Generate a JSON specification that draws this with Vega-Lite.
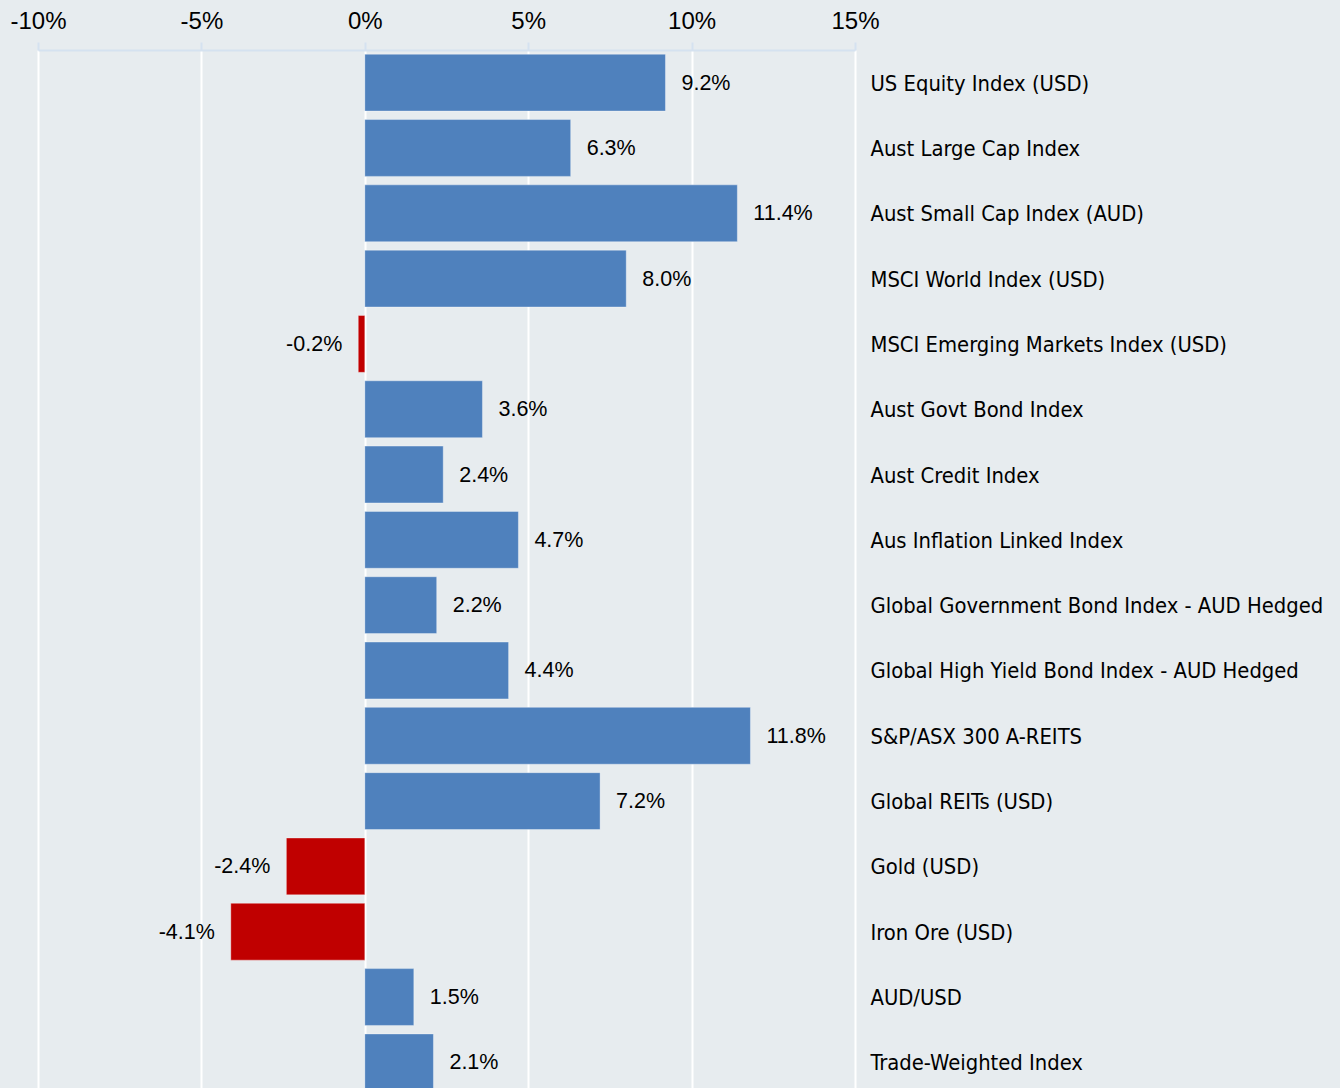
{
  "$schema": "https://vega.github.io/schema/vega-lite/v6.json",
  "autosize": {"type": "none"},
  "padding": {"left": 38, "top": 50, "right": 485, "bottom": 0},
  "width": 817,
  "height": 1045,
  "background": "#e7ecef",
  "config": {
    "view": {"stroke": null},
    "font": "Liberation Sans, Arial, sans-serif"
  },
  "data": {
    "values": [
      {"name": "US Equity Index (USD)", "value": 9.2, "label": "9.2%"},
      {"name": "Aust Large Cap Index", "value": 6.3, "label": "6.3%"},
      {"name": "Aust Small Cap Index (AUD)", "value": 11.4, "label": "11.4%"},
      {"name": "MSCI World Index (USD)", "value": 8.0, "label": "8.0%"},
      {"name": "MSCI Emerging Markets Index (USD)", "value": -0.2, "label": "-0.2%"},
      {"name": "Aust Govt Bond Index", "value": 3.6, "label": "3.6%"},
      {"name": "Aust Credit Index", "value": 2.4, "label": "2.4%"},
      {"name": "Aus Inflation Linked Index", "value": 4.7, "label": "4.7%"},
      {"name": "Global Government Bond Index - AUD Hedged", "value": 2.2, "label": "2.2%"},
      {"name": "Global High Yield Bond Index - AUD Hedged", "value": 4.4, "label": "4.4%"},
      {"name": "S&P/ASX 300 A-REITS", "value": 11.8, "label": "11.8%"},
      {"name": "Global REITs (USD)", "value": 7.2, "label": "7.2%"},
      {"name": "Gold (USD)", "value": -2.4, "label": "-2.4%"},
      {"name": "Iron Ore (USD)", "value": -4.1, "label": "-4.1%"},
      {"name": "AUD/USD", "value": 1.5, "label": "1.5%"},
      {"name": "Trade-Weighted Index", "value": 2.1, "label": "2.1%"}
    ]
  },
  "encoding": {
    "y": {
      "field": "name",
      "type": "nominal",
      "sort": null,
      "scale": {"paddingInner": 0.13, "paddingOuter": 0.065},
      "axis": {
        "orient": "right",
        "title": null,
        "domain": false,
        "ticks": false,
        "grid": false,
        "labelAlign": "left",
        "labelPadding": 15,
        "labelFont": "DejaVu Sans Condensed, sans-serif",
        "labelFontSize": 21.8,
        "labelColor": "#000000",
        "labelLimit": 600,
        "labelOffset": 1
      }
    },
    "x": {
      "field": "value",
      "type": "quantitative",
      "scale": {"domain": [-10, 15], "nice": false, "zero": false},
      "axis": {
        "orient": "top",
        "title": null,
        "values": [-10, -5, 0, 5, 10, 15],
        "labelExpr": "datum.value + '%'",
        "labelFontSize": 24,
        "labelColor": "#000000",
        "labelPadding": 9,
        "labelFlush": false,
        "labelOverlap": false,
        "tickSize": 8,
        "tickColor": "#d5e2f0",
        "tickWidth": 2,
        "domainColor": "#d5e2f0",
        "domainWidth": 2,
        "grid": true,
        "gridColor": "#ffffff",
        "gridWidth": 2,
        "gridOpacity": 1
      }
    }
  },
  "layer": [
    {
      "mark": {"type": "bar", "strokeWidth": 1, "stroke": "#ffffff", "strokeOpacity": 0.35},
      "encoding": {
        "x2": {"datum": 0},
        "color": {
          "condition": {"test": "datum.value < 0", "value": "#c00000"},
          "value": "#4f81bd"
        }
      }
    },
    {
      "transform": [{"filter": "datum.value >= 0"}],
      "mark": {"type": "text", "align": "left", "dx": 16, "dy": 1, "fontSize": 21.5, "color": "#000000", "baseline": "middle"},
      "encoding": {"text": {"field": "label"}}
    },
    {
      "transform": [{"filter": "datum.value < 0"}],
      "mark": {"type": "text", "align": "right", "dx": -16, "dy": 1, "fontSize": 21.5, "color": "#000000", "baseline": "middle"},
      "encoding": {"text": {"field": "label"}}
    }
  ]
}
